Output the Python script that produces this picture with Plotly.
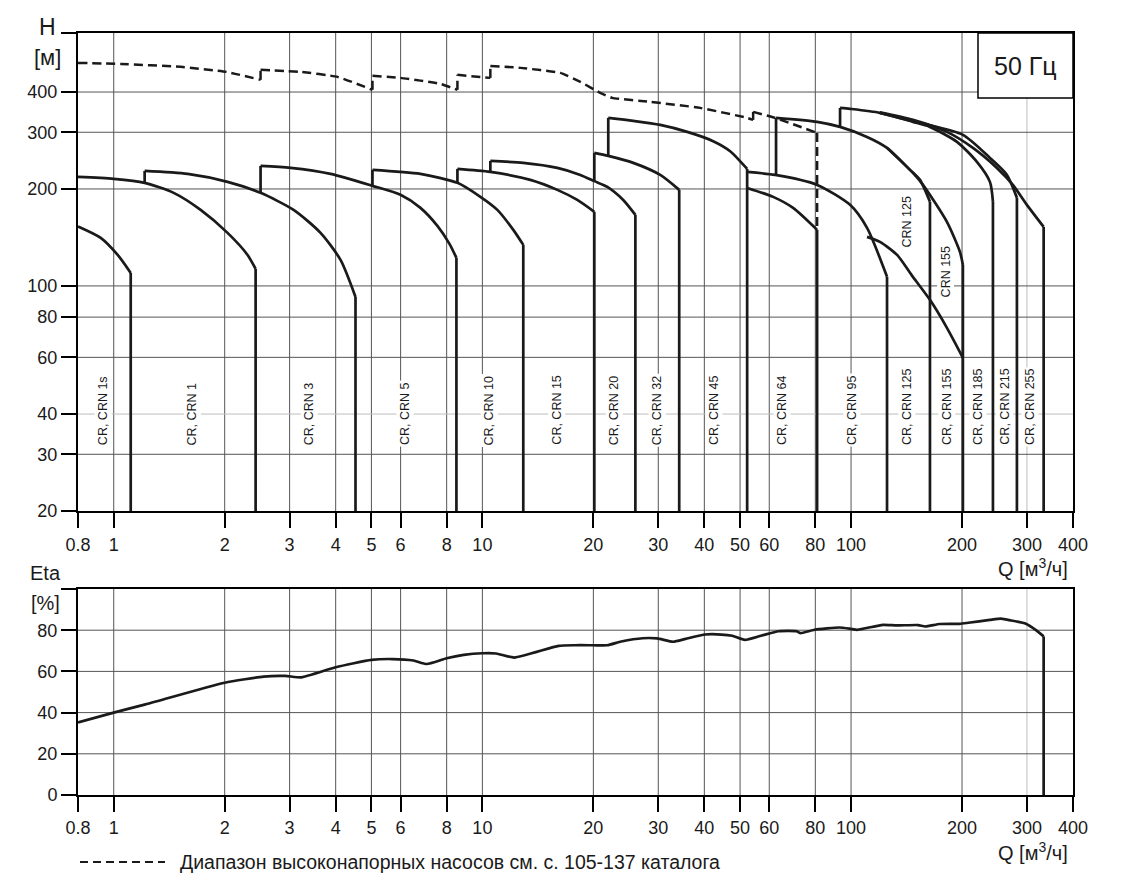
import math
import plotly.graph_objects as go

# ---------------- canvas / layout helpers ----------------
W, HGT = 1123, 891
ML, MR, MT, MB = 78, 50, 33, 96
PW = W - ML - MR
PH = HGT - MT - MB
FONT = "Liberation Sans, Arial, Helvetica, sans-serif"
INK = "#1a1a1a"


def paper_x(px):
    return (px - ML) / PW


def paper_y(py):
    return (HGT - MB - py) / PH


# ---------------- axes ticks ----------------
q_ticks = [0.8, 1, 2, 3, 4, 5, 6, 8, 10, 20, 30, 40, 50, 60, 80, 100, 200, 300, 400]
q_tick_text = ["0.8", "1", "2", "3", "4", "5", "6", "8", "10", "20", "30", "40",
               "50", "60", "80", "100", "200", "300", "400"]
h_ticks = [20, 30, 40, 60, 80, 100, 200, 300, 400, 610]
h_tick_text = ["20", "30", "40", "60", "80", "100", "200", "300", "400", " "]
eta_ticks = [0, 20, 40, 60, 80, 100]
eta_tick_text = ["0", "20", "40", "60", "80", " "]

q_grid_dark = [1, 2, 3, 4, 5, 6, 8, 10, 20, 30, 40, 50, 60, 80, 100, 200]
q_grid_light = [300]
h_grid_dark = [30, 60, 80, 100, 200, 300, 400]
h_grid_light = [40]
eta_grid = [20, 40, 60, 80]

# ---------------- head curves (Q m3/h, H m) ----------------
q_cr1s = [0.8, 0.922, 1.025, 1.112, 1.112]
h_cr1s = [153, 141, 124.8, 109.7, 20]

q_cr1 = [0.8, 1.0, 1.213, 1.454, 1.721, 2.036, 2.307, 2.426, 2.426]
h_cr1 = [218, 215, 208.9, 194.5, 172.2, 146.1, 124.8, 112.9, 20]

q_cr3 = [1.213, 1.213, 1.587, 2.036, 2.502, 3.075, 3.639, 4.123, 4.527, 4.527]
h_cr3 = [208.9, 227.5, 222.7, 210.4, 194.5, 172.2, 146.1, 120.4, 92.4, 20]

q_cr5 = [2.502, 2.502, 3.018, 3.874, 5.033, 5.996, 6.792, 7.551, 8.141, 8.503, 8.503]
h_cr5 = [194.5, 235.8, 232.5, 222.7, 204.5, 191.8, 174.7, 153.6, 135.1, 122.2, 20]

q_cr10 = [5.033, 5.033, 6.792, 8.556, 9.876, 10.98, 12.13, 12.91, 12.91]
h_cr10 = [204.5, 229.2, 222.7, 208.9, 189.0, 172.2, 149.3, 134.1, 20]

q_cr15 = [8.556, 8.556, 10.51, 13.49, 15.97, 18.09, 20.12, 20.12]
h_cr15 = [208.9, 230.8, 225.9, 213.4, 198.7, 184.9, 169.8, 20]

q_cr20 = [10.51, 10.51, 12.91, 15.97, 18.44, 20.12, 21.82, 24.10, 26.0, 26.0]
h_cr20 = [225.9, 244.4, 241.0, 232.5, 221.1, 211.5, 203.0, 184.9, 166.2, 20]

q_cr32 = [20.12, 20.12, 21.95, 25.66, 30.37, 34.19, 34.19]
h_cr32 = [211.5, 258.8, 253.3, 241.0, 221.1, 198.7, 20]

q_cr45 = [21.95, 21.95, 25.66, 30.37, 35.94, 42.27, 47.0, 52.26, 52.26]
h_cr45 = [253.3, 332.5, 325.4, 316.2, 300.8, 281.5, 262.0, 230.8, 20]

q_cr64 = [52.26, 61.47, 69.63, 80.9, 80.9]
h_cr64 = [201.5, 189.0, 174.7, 149.3, 20]

q_cr95 = [52.26, 62.23, 80.9, 99.4, 110.5, 125.2, 125.2]
h_cr95 = [225.9, 221.1, 205.9, 178.5, 151.4, 106.7, 20]

q_cr125 = [62.6, 62.6, 80.9, 93.37, 110.5, 125.2, 144.5, 153.8, 163.7, 163.7]
h_cr125 = [221.1, 332.5, 323.1, 311.7, 290.2, 268.3, 229.2, 213.4, 182.4, 20]

q_cr155 = [125.2, 147.2, 156.7, 182.0, 197.4, 201.1, 201.1]
h_cr155 = [268.3, 224.3, 205.9, 158.0, 127.5, 116.2, 20]

q_crn = [110.5, 119.8, 133.3, 146.0, 163.7, 182.0, 201.1]
h_crn = [142.0, 137.0, 124.8, 108.0, 90.5, 74.1, 59.8]

q_cr185 = [93.37, 93.37, 99.4, 119.8, 147.2, 163.7, 193.8, 219.5, 238.1, 242.6, 242.6]
h_cr185 = [311.7, 357.1, 354.6, 344.6, 323.1, 311.7, 280.1, 242.7, 210.4, 182.4, 20]

q_cr215 = [119.8, 153.8, 201.1, 238.1, 264.8, 281.8, 281.8]
h_cr215 = [344.6, 320.8, 294.4, 249.7, 221.1, 187.7, 20]

q_cr255 = [119.8, 147.2, 182.0, 214.1, 248.7, 274.8, 299.9, 333.0, 333.0]
h_cr255 = [346.0, 327.8, 300.8, 268.3, 232.5, 205.9, 178.5, 152.5, 20]

# high-pressure range (dashed)
q_dash = [0.8, 1.045, 1.519, 2.02, 2.502, 2.502, 3.213, 4.046, 5.033, 5.033, 5.996,
          7.694, 8.556, 8.556, 10.51, 10.51, 12.68, 16.27, 18.44, 20.88, 22.5, 28.52,
          38.98, 52.26, 54.25, 54.25, 62.23, 80.9, 80.9]
h_dash = [492.6, 489.1, 478.8, 462.0, 436.4, 468.7, 462.0, 445.8, 406.2, 449.0, 442.6,
          424.0, 406.2, 452.2, 442.6, 482.2, 475.4, 458.7, 430.1, 397.6, 383.6, 372.8,
          357.1, 332.5, 327.8, 347.1, 332.5, 298.6, 149.3]

# efficiency envelope
q_eta = [0.8, 1.0, 1.22, 2.0, 2.55, 2.92, 3.23, 4.0, 5.0, 5.7, 6.5, 7.06, 8.0, 8.9,
         10.0, 10.9, 12.2, 16.1, 17.8, 20, 21.8, 23.8, 27.2, 29.8, 32.9, 35.6, 40.2,
         44.5, 47.6, 51.5, 57, 63.6, 71.2, 72.8, 79.6, 93, 99.6, 104, 122, 133, 152,
         159, 174, 197, 208, 238, 255, 272, 298, 318, 333, 333]
eta = [35.2, 40, 44, 54.5, 57.5, 57.8, 57.1, 62, 65.6, 66, 65.3, 63.6, 66.4, 68,
       68.8, 68.7, 66.7, 72.4, 72.7, 72.7, 72.7, 74.5, 76.1, 76, 74.4, 75.8, 77.9,
       77.9, 77.3, 75.3, 77.3, 79.5, 79.5, 78.6, 80.2, 81.3, 80.7, 80.2, 82.6, 82.3, 82.5,
       81.8, 83, 83.1, 83.6, 85, 85.6, 84.7, 83.1, 79.9, 77, 0]

# range labels
label_text = ["CR, CRN 1s", "CR, CRN 1", "CR, CRN 3", "CR, CRN 5", "CR, CRN 10",
              "CR, CRN 15", "CR, CRN 20", "CR, CRN 32", "CR, CRN 45", "CR, CRN 64",
              "CR, CRN 95", "CR, CRN 125", "CR, CRN 155", "CR, CRN 185", "CR, CRN 215",
              "CR, CRN 255"]
label_q = [0.933, 1.63, 3.38, 6.15, 10.45, 15.9, 22.8, 29.8, 42.5, 65, 100.6, 141.8,
           182, 221, 261, 305.6]
label_h = 31.6
crn_text = ["CRN 125", "CRN 155"]
crn_q = [141.9, 180.9]
crn_h = [129.3, 91.1]

fig = go.Figure()


def grid_lines(vals, lo, hi, vertical, color, xa, ya):
    xs, ys = [], []
    for v in vals:
        if vertical:
            xs += [v, v, None]
            ys += [lo, hi, None]
        else:
            xs += [lo, hi, None]
            ys += [v, v, None]
    fig.add_trace(go.Scatter(x=xs, y=ys, mode="lines", line=dict(color=color, width=1),
                             xaxis=xa, yaxis=ya, hoverinfo="skip", showlegend=False))


GRID_D = "#555555"
GRID_L = "#bdbdbd"
grid_lines(q_grid_dark, 20, 610, True, GRID_D, "x", "y")
grid_lines(q_grid_light, 20, 610, True, GRID_L, "x", "y")
grid_lines(h_grid_dark, 0.8, 400, False, GRID_D, "x", "y")
grid_lines(h_grid_light, 0.8, 400, False, GRID_L, "x", "y")
grid_lines(q_grid_dark, 0, 100, True, GRID_D, "x2", "y2")
grid_lines(q_grid_light, 0, 100, True, GRID_L, "x2", "y2")
grid_lines(eta_grid, 0.8, 400, False, GRID_D, "x2", "y2")


def add_path(q, v, xa, ya, width=2.7, dash="solid", smoothing=0.7):
    def flush(idx, shape):
        line = dict(color=INK, width=width, dash=dash, shape=shape)
        if shape == "spline":
            line["smoothing"] = smoothing
        fig.add_trace(go.Scatter(x=[q[i] for i in idx], y=[v[i] for i in idx],
                                 mode="lines", line=line, xaxis=xa, yaxis=ya,
                                 hoverinfo="skip", showlegend=False))
    seg = [0]
    for k in range(1, len(q)):
        if q[k] == q[k - 1]:
            if len(seg) > 1:
                flush(seg, "spline")
            flush([k - 1, k], "linear")
            seg = [k]
        else:
            seg.append(k)
    if len(seg) > 1:
        flush(seg, "spline")


head_curves = [(q_cr1s, h_cr1s), (q_cr1, h_cr1), (q_cr3, h_cr3), (q_cr5, h_cr5),
               (q_cr10, h_cr10), (q_cr15, h_cr15), (q_cr20, h_cr20), (q_cr32, h_cr32),
               (q_cr45, h_cr45), (q_cr64, h_cr64), (q_cr95, h_cr95), (q_cr125, h_cr125),
               (q_cr155, h_cr155), (q_crn, h_crn), (q_cr185, h_cr185), (q_cr215, h_cr215),
               (q_cr255, h_cr255)]
for qq, hh in head_curves:
    add_path(qq, hh, "x", "y")

add_path(q_dash, h_dash, "x", "y", width=2.5, dash="9px,5px", smoothing=0.4)
add_path(q_eta, eta, "x2", "y2", width=2.7, smoothing=0.5)

axis_common = dict(showline=True, linecolor="black", linewidth=2, mirror=True,
                   ticks="outside", ticklen=15, tickwidth=1.5, tickcolor="black",
                   showgrid=False, zeroline=False,
                   tickfont=dict(size=18, family=FONT, color=INK))
fig.update_layout(
    width=W, height=HGT, margin=dict(l=ML, r=MR, t=MT, b=MB),
    paper_bgcolor="white", plot_bgcolor="white", showlegend=False,
    font=dict(family=FONT, color=INK),
    xaxis=dict(type="log", range=[math.log10(0.8), math.log10(400)], domain=[0, 1],
               anchor="y", tickmode="array", tickvals=q_ticks, ticktext=q_tick_text,
               ticklabelstandoff=1, **axis_common),
    yaxis=dict(type="log", range=[math.log10(20), math.log10(610)],
               domain=[paper_y(511), 1.0], anchor="x", tickmode="array",
               tickvals=h_ticks, ticktext=h_tick_text, **axis_common),
    xaxis2=dict(type="log", range=[math.log10(0.8), math.log10(400)], domain=[0, 1],
                anchor="y2", tickmode="array", tickvals=q_ticks, ticktext=q_tick_text,
                ticklabelstandoff=0, **axis_common),
    yaxis2=dict(range=[0, 100], domain=[0.0, paper_y(589)], anchor="x2",
                tickmode="array", tickvals=eta_ticks, ticktext=eta_tick_text,
                **axis_common),
)

# range labels
for txt, qv in zip(label_text, label_q):
    fig.add_annotation(x=math.log10(qv), y=math.log10(label_h), xref="x", yref="y",
                       text=txt, textangle=-90, showarrow=False, xanchor="center",
                       yanchor="bottom", font=dict(size=12.5, family=FONT, color=INK),
                       bgcolor="white", borderpad=1)
for txt, qv, hv in zip(crn_text, crn_q, crn_h):
    fig.add_annotation(x=math.log10(qv), y=math.log10(hv), xref="x", yref="y",
                       text=txt, textangle=-90, showarrow=False, xanchor="center",
                       yanchor="bottom", font=dict(size=12.5, family=FONT, color=INK),
                       bgcolor="white", borderpad=1)


# axis titles
def ptext(txt, px, py, size, xanchor="center"):
    fig.add_annotation(x=paper_x(px), y=paper_y(py), xref="paper", yref="paper",
                       text=txt, showarrow=False, xanchor=xanchor, yanchor="middle",
                       font=dict(size=size, family=FONT, color=INK))


ptext("H", 47, 27, 23)
ptext("[м]", 47, 57, 22)
ptext("Eta", 63, 573, 20, "right")
ptext("[%]", 62, 603, 20, "right")
ptext("Q [м<sup>3</sup>/ч]", 1070, 567, 20, "right")
ptext("Q [м<sup>3</sup>/ч]", 1070, 851, 20, "right")

# 50 Hz box
fig.add_shape(type="rect", xref="paper", yref="paper", x0=paper_x(978), x1=paper_x(1073),
              y0=paper_y(98), y1=paper_y(33), line=dict(color="black", width=1.5),
              fillcolor="white", layer="above")
ptext("50 Гц", 1025, 66, 25)

# legend line + text
fig.add_shape(type="line", xref="paper", yref="paper", x0=paper_x(80), x1=paper_x(165),
              y0=paper_y(862), y1=paper_y(862),
              line=dict(color=INK, width=2.2, dash="8px,5px"))
ptext("Диапазон высоконапорных насосов см. с. 105-137 каталога", 178, 862, 19.5, "left")

fig.write_html("out.html")
